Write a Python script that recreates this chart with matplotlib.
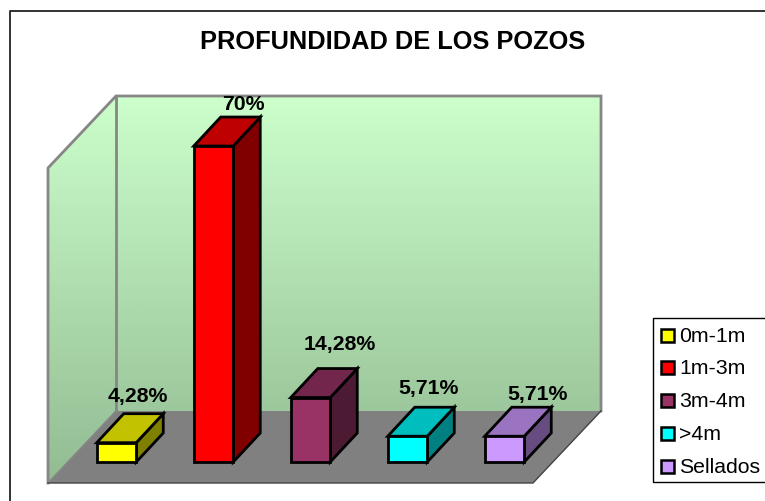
import numpy as np
import matplotlib
matplotlib.use('Agg')
import matplotlib.pyplot as plt
from matplotlib.patches import Polygon, Rectangle

plt.rcParams['font.family'] = ['Liberation Sans', 'DejaVu Sans']

# datos
categorias = ['0m-1m', '1m-3m', '3m-4m', '>4m', 'Sellados']
valores = [4.28, 70, 14.28, 5.71, 5.71]
etiquetas = ['4,28%', '70%', '14,28%', '5,71%', '5,71%']
colores = ['#FFFF00', '#FF0000', '#993366', '#00FFFF', '#CC99FF']
colores_top = ['#C2C200', '#BE0000', '#72264C', '#00BEBE', '#9A74C0']
colores_lado = ['#808000', '#800000', '#4C1A33', '#008080', '#664C80']

W, H = 765, 501
fig = plt.figure(figsize=(W / 100, H / 100), dpi=100)
ax = fig.add_axes([0, 0, 1, 1])

# escala: categoria -> 97 px, 1% -> 4.514 px
px_x = 97.0
px_y = 4.514
x0 = 116.5
y0 = 462.0
ax.set_xlim(-x0 / px_x, (W - x0) / px_x)
ax.set_ylim((y0 - H) / px_y, y0 / px_y)
ax.axis('off')


def X(p):
    return (p - x0) / px_x


def Y(p):
    return (y0 - p) / px_y


dx = 27 / px_x
dy = 29 / px_y
ancho = 39.5 / px_x

# marco exterior (solo se ven izquierda y arriba)
ax.plot([X(10), X(10), X(765)], [Y(501), Y(10.5), Y(10.5)], color='#222222', lw=1.3, zorder=1)

# paredes con degradado
grad = np.linspace(0, 1, 256)[:, None, None]
top = np.array([204, 255, 204]) / 255
bot = np.array([146, 187, 146]) / 255
img = top * (1 - grad) + bot * grad
pared_pts = [(X(116), Y(96)), (X(601), Y(96)), (X(601), Y(411)), (X(533), Y(483)),
             (X(48), Y(483)), (X(48), Y(168))]
im = ax.imshow(img, extent=[X(48), X(601), Y(483), Y(96)], aspect='auto', zorder=2,
               interpolation='bilinear')
clip = Polygon(pared_pts, transform=ax.transData, fc='none', ec='none')
ax.add_patch(clip)
im.set_clip_path(clip)
ax.set_xlim(-x0 / px_x, (W - x0) / px_x)
ax.set_ylim((y0 - H) / px_y, y0 / px_y)

# suelo
ax.add_patch(Polygon([(X(48), Y(483)), (X(116), Y(411)), (X(601), Y(411)), (X(533), Y(483))],
                     fc='#808080', ec='none', zorder=3))

# bordes de paredes
gris = '#868686'
ax.plot([X(48), X(48), X(116), X(601), X(601)], [Y(483), Y(168), Y(96), Y(96), Y(411)],
        color=gris, lw=2, zorder=4, solid_joinstyle='miter')
ax.plot([X(116), X(116)], [Y(96), Y(411)], color=gris, lw=2, zorder=4)
ax.plot([X(48), X(116)], [Y(483), Y(411)], color=gris, lw=1.2, zorder=4)
ax.plot([X(48), X(533), X(601)], [Y(483), Y(483), Y(411)], color='#444444', lw=1, zorder=4)

# barras 3D
for i, v in enumerate(valores):
    l = i - ancho / 2
    r = i + ancho / 2
    kw = dict(ec='black', lw=2, zorder=5, joinstyle='miter')
    ax.add_patch(Polygon([(r, 0), (r + dx, dy), (r + dx, v + dy), (r, v)], fc=colores_lado[i], **kw))
    ax.add_patch(Polygon([(l, v), (r, v), (r + dx, v + dy), (l + dx, v + dy)], fc=colores_top[i], **kw))
    ax.add_patch(Polygon([(l, 0), (r, 0), (r, v), (l, v)], fc=colores[i], **kw))

# etiquetas de valores, desplazadas en px respecto a la barra
desp_x = [21, 29.5, 29.5, 20.5, 32.5]
desp_y = [46, 42, 53.5, 48, 42]
for i, v in enumerate(valores):
    ax.text(i + desp_x[i] / px_x, v + desp_y[i] / px_y, etiquetas[i], ha='center', va='center',
            fontsize=15.3, fontweight='bold', color='black', zorder=6)

# titulo
ax.text(X(392.5), Y(42), 'PROFUNDIDAD DE LOS POZOS', ha='center', va='center', fontsize=18.3,
        fontweight='bold', color='black', zorder=6)

# leyenda
ax.add_patch(Rectangle((X(653), Y(482)), (780 - 653) / px_x, (482 - 318) / px_y, fc='white',
                       ec='black', lw=1, zorder=6))
for i, c in enumerate(categorias):
    yc = 335 + i * 32.8
    ax.add_patch(Rectangle((X(661), Y(yc + 6.5)), 13 / px_x, 13 / px_y, fc=colores[i], ec='black',
                           lw=1.8, zorder=7))
    ax.text(X(679), Y(yc + 1), c, ha='left', va='center', fontsize=15.3, color='black', zorder=7)

fig.savefig('out.png', dpi=100)
